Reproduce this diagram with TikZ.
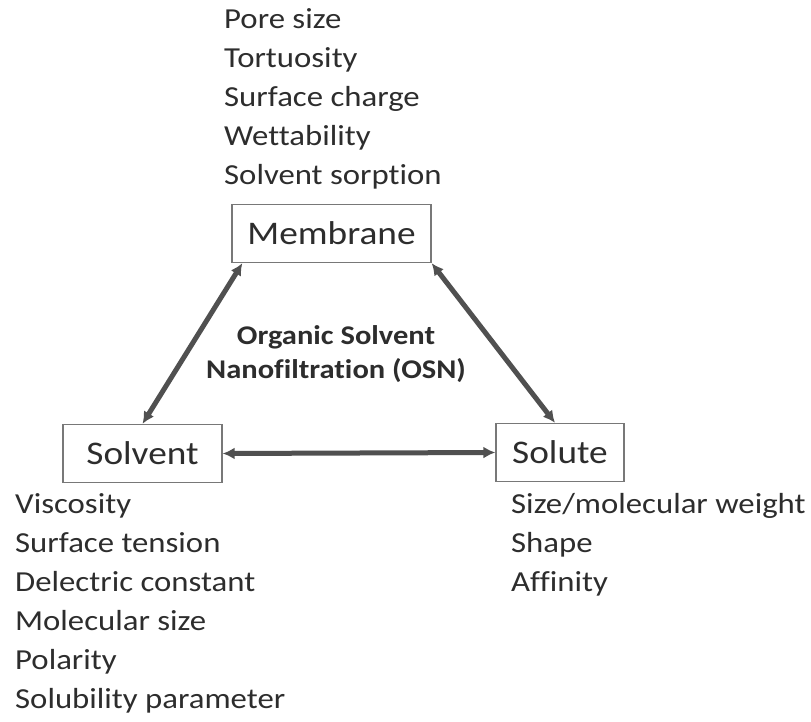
\documentclass[tikz,border=0pt]{standalone}
\usepackage{fontspec}
\setmainfont{Carlito}[FakeStretch=1.13,Ligatures=NoCommon]
\usepackage{tikz}
\usetikzlibrary{arrows.meta}
\definecolor{ink}{RGB}{45,45,45}
\definecolor{linkgray}{RGB}{80,80,80}
\definecolor{boxline}{RGB}{120,120,120}

\begin{document}
\begin{tikzpicture}[x=1pt,y=-1pt,>={Latex[length=12pt,width=12pt]},
    part/.style={draw=boxline,line width=1.3pt,fill=white,minimum height=58pt,inner sep=0pt,text=ink,font=\fontsize{33}{38}\selectfont},
    props/.style={anchor=north west,inner sep=0pt,align=left,text=ink,font=\fontsize{29}{39}\selectfont},
    link/.style={<->,linkgray,line width=5pt}]
    \useasboundingbox (0,0) rectangle (811,722);
    \node[part,minimum width=199pt] (mem) at (331.5,233.5) {Membrane};
    \node[part,minimum width=159pt] (sv) at (142.5,453.5) {Solvent};
    \node[part,minimum width=128pt] (sl) at (560,452.5) {Solute};
    \node[props] (memprops) at (224,8) {Pore size\\Tortuosity\\Surface charge\\Wettability\\Solvent sorption};
    \node[props] (svprops) at (15,493) {Viscosity\\Surface tension\\Delectric constant\\Molecular size\\Polarity\\Solubility parameter};
    \node[props] (slprops) at (511,493) {Size/molecular weight\\Shape\\Affinity};
    \node[align=center,text=ink,font=\bfseries\fontsize{27}{34}\selectfont] (osn) at (336,354) {Organic Solvent\\Nanofiltration (OSN)};
    \draw[link] (sv.north) -- ([xshift=11pt]mem.south west);
    \draw[link] (mem.south east) -- ([xshift=-5pt]sl.north);
    \draw[link] (sv.east) -- (sl.west);
  \end{tikzpicture}
\end{document}
